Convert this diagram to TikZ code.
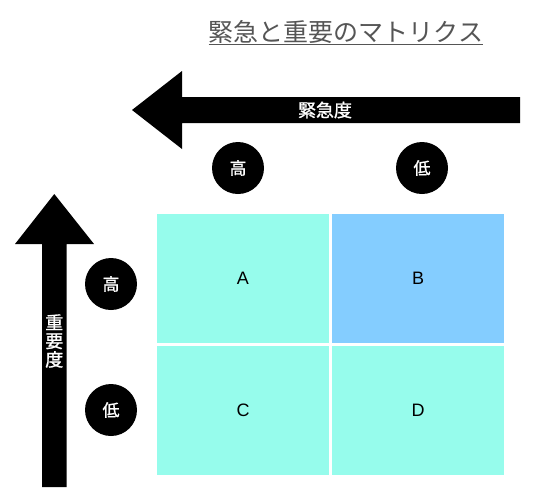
\documentclass[tikz,border=0pt]{standalone}
\usepackage{fontspec}
\setmainfont{Liberation Sans}
\newfontfamily\jp{Noto Sans CJK JP}
\newfontfamily\jpb[FakeBold=1.2]{Noto Sans CJK JP}
\definecolor{cellA}{RGB}{150,252,236}
\definecolor{cellB}{RGB}{132,205,255}
\definecolor{titlegray}{RGB}{85,85,85}
\begin{document}
\begin{tikzpicture}[x=1pt,y=-1pt,
  cell/.style={minimum width=172pt,minimum height=129pt,inner sep=0pt,font=\fontsize{18}{20}\selectfont},
  badge/.style={circle,fill=black,minimum size=52pt,inner sep=0pt,text=white,font=\jpb\fontsize{17}{19}\selectfont},
  arrowlabel/.style={text=white,font=\jpb\fontsize{18}{19}\selectfont,inner sep=0pt}]
\useasboundingbox (0,0) rectangle (536,496);
% title
\node[text=titlegray,font=\jp\fontsize{25}{28}\selectfont,inner sep=0pt] (title) at (346,32) {緊急と重要のマトリクス};
\draw[titlegray,line width=1.2pt] ([yshift=-1pt]title.south west) -- ([yshift=-1pt]title.south east);
% horizontal arrow
\fill (132,110) -- (182,71) -- (182,97) -- (520,97) -- (520,123) -- (182,123) -- (182,149) -- cycle;
\node[arrowlabel] (urg) at (325,110) {緊急度};
% vertical arrow
\fill (54.3,194) -- (94,244) -- (66.7,244) -- (66.7,487) -- (42,487) -- (42,244) -- (15,244) -- cycle;
\node[arrowlabel,align=center,font=\jpb\fontsize{18}{18.5}\selectfont] (imp) at (54.3,341) {重\\要\\度};
% badges
\node[badge] (th) at (238,168) {高};
\node[badge] (tl) at (422,168) {低};
\node[badge] (lh) at (111,284) {高};
\node[badge] (ll) at (111,410) {低};
% cells
\node[cell,fill=cellA] (A) at (243,278.5) {A};
\node[cell,fill=cellB] (B) at (418,278.5) {B};
\node[cell,fill=cellA] (C) at (243,410.5) {C};
\node[cell,fill=cellA] (D) at (418,410.5) {D};
\end{tikzpicture}
\end{document}
